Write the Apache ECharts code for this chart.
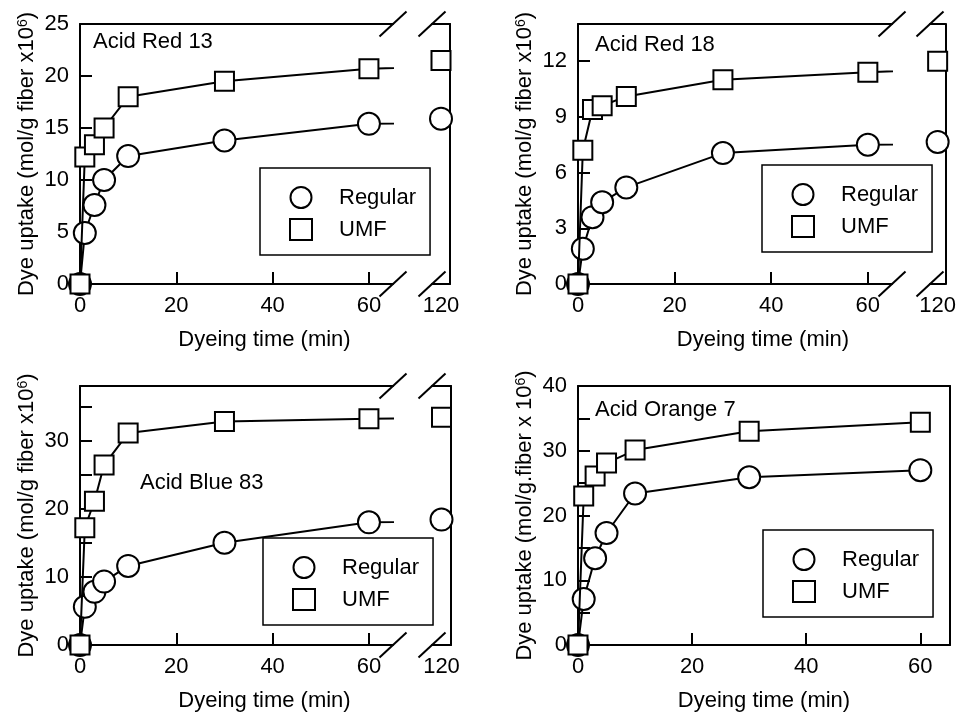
<!DOCTYPE html>
<html><head><meta charset="utf-8">
<script src="https://cdn.jsdelivr.net/npm/echarts@6/dist/echarts.min.js"></script>
<style>html,body{margin:0;padding:0;background:#fff}#c{width:959px;height:717px}</style>
</head><body><div id="c"></div>
<script>
// ---------------- data ----------------
const timesMin = [0, 1, 3, 5, 10, 30, 60, 120];
const timesMinAO7 = [0, 1, 3, 5, 10, 30, 60];

const ar13Regular = [0, 4.9, 7.6, 10.0, 12.3, 13.8, 15.4, 15.9];
const ar13UMF     = [0, 12.2, 13.4, 15.0, 18.0, 19.5, 20.7, 21.5];
const ar18Regular = [0, 1.9, 3.6, 4.4, 5.2, 7.05, 7.5, 7.65];
const ar18UMF     = [0, 7.2, 9.4, 9.6, 10.1, 11.0, 11.4, 12.0];
const ab83Regular = [0, 5.6, 7.8, 9.3, 11.6, 15.0, 18.0, 18.4];
const ab83UMF     = [0, 17.2, 21.1, 26.4, 31.1, 32.8, 33.2, 33.4];
const ao7Regular  = [0, 7.1, 13.4, 17.3, 23.4, 25.9, 27.0];
const ao7UMF      = [0, 23.0, 26.1, 28.1, 30.1, 33.0, 34.4];

const xLabelValues = [0, 20, 40, 60];
const xTickValues = [20, 40, 60];
const breakLabelValues = [120];
const ar13YLabels = [0, 5, 10, 15, 20, 25];
const ar13YTicks = [5, 10, 15, 20];
const ar18YLabels = [0, 3, 6, 9, 12];
const ar18YTicks = [3, 6, 9, 12];
const ab83YLabels = [0, 10, 20, 30];
const ab83YTicks = [5, 10, 15, 20, 25, 30, 35];
const ao7YLabels = [0, 10, 20, 30, 40];
const ao7YTicks = [5, 10, 15, 20, 25, 30, 35];

const seriesNames = ['Regular', 'UMF'];
const dyeNames = ['Acid Red 13', 'Acid Red 18', 'Acid Blue 83', 'Acid Orange 7'];
const yNameA = 'Dye uptake (mol/g fiber x10{sup|6})';
const yNameB = 'Dye uptake (mol/g.fiber x 10{sup|6})';
const xName = 'Dyeing time (min)';

// ---------------- layout ----------------
const FONT = '"Liberation Sans", Arial, Helvetica, sans-serif';
const BLACK = '#000';
const panels = [
  { name: dyeNames[0], yName: yNameA, t: timesMin, reg: ar13Regular, umf: ar13UMF, yMax: 25, yLabels: ar13YLabels, yTicks: ar13YTicks,
    main: { left: 80, top: 24, width: 313, height: 260 }, xMax: 65, brk: { left: 432, width: 18, min: 118, max: 122 },
    nameShift: 28, titlePos: { left: 93, top: 31 }, legendPos: { left: 260, top: 168 } },
  { name: dyeNames[1], yName: yNameA, t: timesMin, reg: ar18Regular, umf: ar18UMF, yMax: 14, yLabels: ar18YLabels, yTicks: ar18YTicks,
    main: { left: 578, top: 24, width: 314, height: 260 }, xMax: 65, brk: { left: 930, width: 18, min: 118, max: 122 },
    nameShift: 28, titlePos: { left: 595, top: 34 }, legendPos: { left: 762, top: 165 } },
  { name: dyeNames[2], yName: yNameA, t: timesMin, reg: ab83Regular, umf: ab83UMF, yMax: 38, yLabels: ab83YLabels, yTicks: ab83YTicks,
    main: { left: 80, top: 386, width: 313, height: 259 }, xMax: 65, brk: { left: 432, width: 19, min: 118, max: 122 },
    nameShift: 28, titlePos: { left: 140, top: 472 }, legendPos: { left: 263, top: 538 } },
  { name: dyeNames[3], yName: yNameB, t: timesMinAO7, reg: ao7Regular, umf: ao7UMF, yMax: 40, yLabels: ao7YLabels, yTicks: ao7YTicks,
    main: { left: 578, top: 386, width: 372, height: 259 }, xMax: 65.2, brk: null,
    nameShift: 0, titlePos: { left: 595, top: 399 }, legendPos: { left: 763, top: 530 } }
];

const txt = (s) => ({ fontFamily: FONT, fontSize: s, color: BLACK });
const lineAxis = { show: true, onZero: false, lineStyle: { color: BLACK, width: 2 } };
const markerStyle = { color: '#fff', borderColor: BLACK, borderWidth: 2, opacity: 1 };

const option = {
  animation: false,
  backgroundColor: '#fff',
  grid: [], xAxis: [], yAxis: [], series: [], legend: [], title: [], graphic: []
};

function bareX(grid, pos, min, max) {
  return { type: 'value', gridIndex: grid, position: pos, min, max, axisLine: lineAxis,
    axisTick: { show: false }, axisLabel: { show: false }, splitLine: { show: false } };
}
function bareY(grid, pos, min, max) {
  return { type: 'value', gridIndex: grid, position: pos, min, max, axisLine: lineAxis,
    axisTick: { show: false }, axisLabel: { show: false }, splitLine: { show: false } };
}
function slash(x, y) {
  return { type: 'line', silent: true, z: 100,
    shape: { x1: x - 13.5, y1: y + 12.5, x2: x + 13.5, y2: y - 12.5 },
    style: { stroke: BLACK, lineWidth: 2 } };
}

panels.forEach((p) => {
  const gMain = option.grid.length;
  option.grid.push(Object.assign({ containLabel: false }, p.main));
  const xMain = option.xAxis.length;
  option.xAxis.push({
    type: 'value', gridIndex: gMain, position: 'bottom', min: 0, max: p.xMax,
    axisLine: lineAxis,
    axisTick: { show: true, inside: true, length: 12, lineStyle: { color: BLACK, width: 2 }, customValues: xTickValues },
    axisLabel: Object.assign(txt(22), { margin: 11, customValues: xLabelValues }),
    splitLine: { show: false },
    name: xName, nameLocation: 'middle', nameGap: 45,
    nameTextStyle: Object.assign(txt(22), { padding: [0, 0, 0, p.nameShift * 2] })
  });
  option.xAxis.push(bareX(gMain, 'top', 0, p.xMax));
  const yMain = option.yAxis.length;
  option.yAxis.push({
    type: 'value', gridIndex: gMain, position: 'left', min: 0, max: p.yMax,
    axisLine: lineAxis,
    axisTick: { show: true, inside: true, length: 12, lineStyle: { color: BLACK, width: 2 }, customValues: p.yTicks },
    axisLabel: Object.assign(txt(22), { margin: 11, customValues: p.yLabels }),
    splitLine: { show: false },
    name: p.yName, nameLocation: 'middle', nameGap: 42, nameRotate: 90,
    nameTextStyle: Object.assign(txt(22), { rich: { sup: { fontFamily: FONT, fontSize: 14, color: BLACK, verticalAlign: 'top' } } })
  });
  if (!p.brk) option.yAxis.push(bareY(gMain, 'right', 0, p.yMax));

  const mk = (vals) => p.t.map((t, i) => [t, vals[i]]);
  option.series.push({
    name: seriesNames[0], type: 'line', xAxisIndex: xMain, yAxisIndex: yMain, data: mk(p.reg),
    symbol: 'circle', symbolSize: 22, clip: true, itemStyle: markerStyle,
    lineStyle: { color: BLACK, width: 2 }, z: 2
  });
  option.series.push({
    name: seriesNames[1], type: 'line', xAxisIndex: xMain, yAxisIndex: yMain, data: mk(p.umf),
    symbol: 'rect', symbolSize: 19, clip: true, itemStyle: markerStyle,
    lineStyle: { color: BLACK, width: 2 }, z: 3
  });

  if (p.brk) {
    const gB = option.grid.length;
    option.grid.push({ left: p.brk.left, top: p.main.top, width: p.brk.width, height: p.main.height });
    const xB = option.xAxis.length;
    option.xAxis.push({
      type: 'value', gridIndex: gB, position: 'bottom', min: p.brk.min, max: p.brk.max,
      axisLine: lineAxis, axisTick: { show: false },
      axisLabel: Object.assign(txt(22), { margin: 11, customValues: breakLabelValues }),
      splitLine: { show: false }
    });
    option.xAxis.push(bareX(gB, 'top', p.brk.min, p.brk.max));
    const yB = option.yAxis.length;
    option.yAxis.push(bareY(gB, 'right', 0, p.yMax));
    const mkB = (vals) => mk(vals).filter((d) => d[0] > p.xMax);
    option.series.push({
      name: seriesNames[0], type: 'scatter', xAxisIndex: xB, yAxisIndex: yB, data: mkB(p.reg),
      symbol: 'circle', symbolSize: 22, clip: false, itemStyle: markerStyle, z: 2
    });
    option.series.push({
      name: seriesNames[1], type: 'scatter', xAxisIndex: xB, yAxisIndex: yB, data: mkB(p.umf),
      symbol: 'rect', symbolSize: 19, clip: false, itemStyle: markerStyle, z: 3
    });
    const xr = p.main.left + p.main.width, yt = p.main.top, yb = p.main.top + p.main.height;
    option.graphic.push(slash(xr, yt), slash(xr, yb), slash(p.brk.left, yt), slash(p.brk.left, yb));
  }

  option.title.push({
    text: p.name, left: p.titlePos.left, top: p.titlePos.top, padding: 0,
    textStyle: Object.assign(txt(22), { fontWeight: 'normal' })
  });
  option.legend.push({
    left: p.legendPos.left, top: p.legendPos.top, orient: 'vertical',
    data: [{ name: seriesNames[0], icon: 'circle' }, { name: seriesNames[1], icon: 'rect' }],
    itemWidth: 22, itemHeight: 21, itemGap: 9,
    padding: [18, 14, 14, 29],
    borderColor: BLACK, borderWidth: 1.5, backgroundColor: '#fff',
    itemStyle: { color: '#fff', borderColor: BLACK, borderWidth: 2, opacity: 1 },
    textStyle: Object.assign(txt(22), { padding: [0, 0, 0, 22] }),
    selectedMode: false
  });
});

const chart = echarts.init(document.getElementById('c'), null, { renderer: 'canvas' });
chart.setOption(option);
</script>
</body></html>
